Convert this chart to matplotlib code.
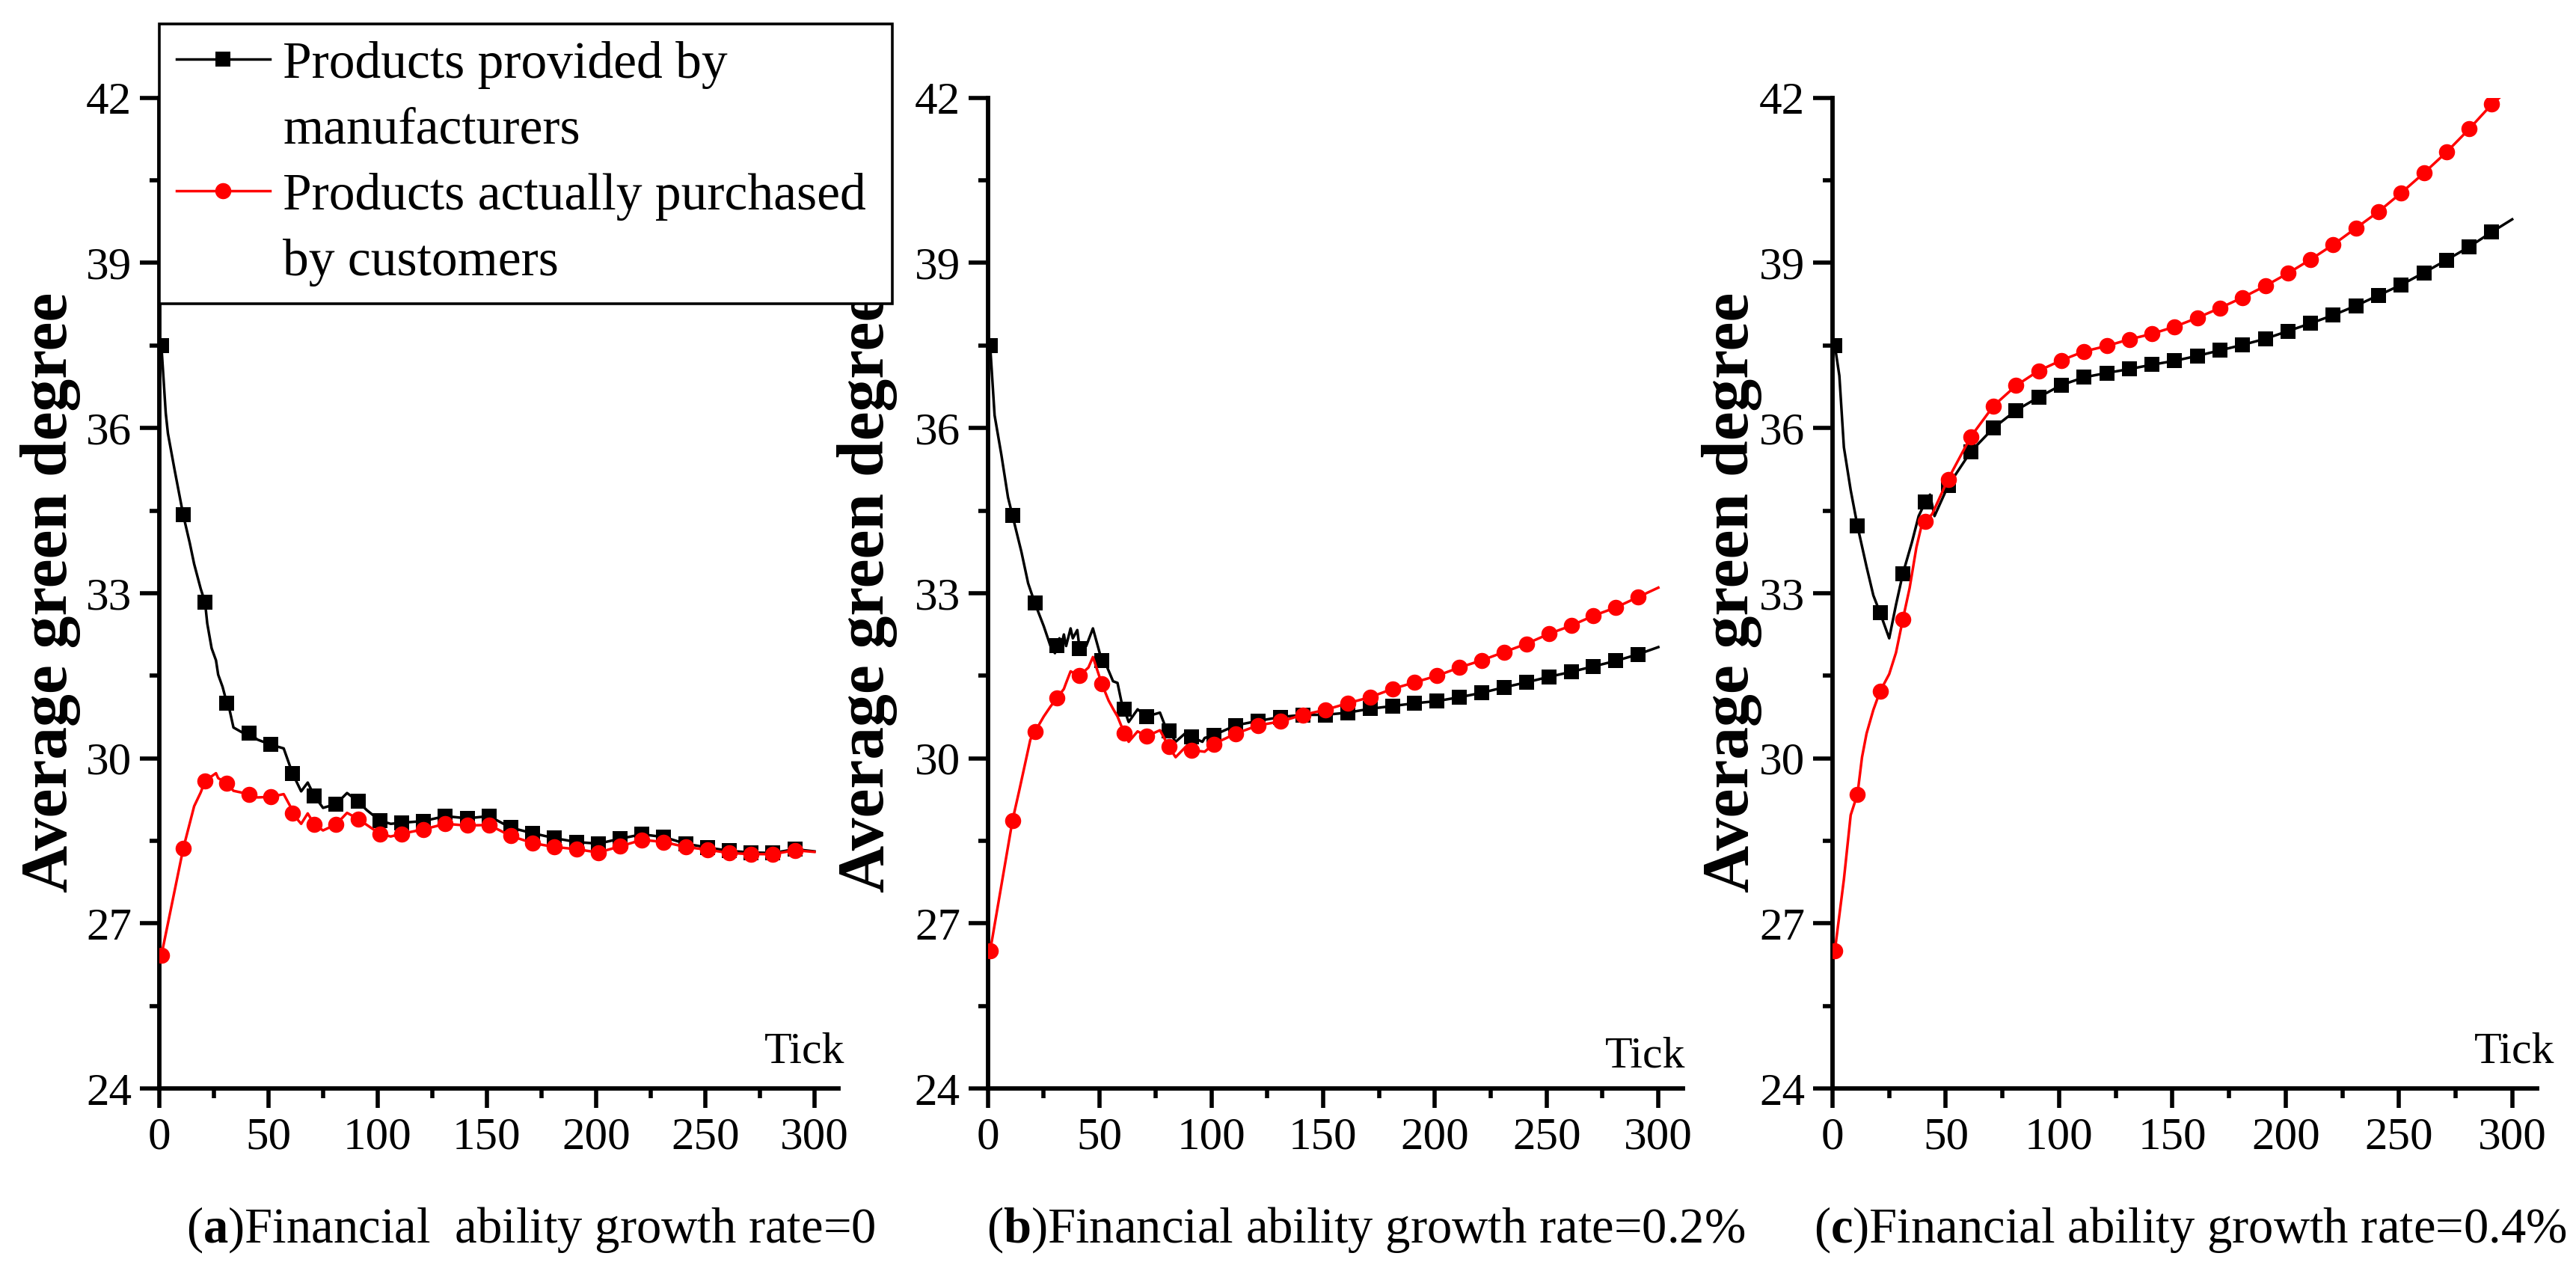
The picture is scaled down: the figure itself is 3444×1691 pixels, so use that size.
import matplotlib
matplotlib.use("Agg")
import matplotlib.pyplot as plt
from matplotlib.lines import Line2D
from matplotlib.ticker import MultipleLocator

plt.rcParams['font.family'] = ['Liberation Serif', 'DejaVu Serif']
plt.rcParams['mathtext.fontset'] = 'custom'
plt.rcParams['mathtext.rm'] = 'Liberation Serif'
plt.rcParams['mathtext.bf'] = 'Liberation Serif:bold'

# ---- data (tick, average green degree) ----
# (a) growth rate = 0
a_man_x = [1, 3, 4, 7, 11, 14, 16, 19, 21, 22, 24, 26, 27, 29, 31, 32, 34, 38, 41, 45, 51, 57, 61, 65, 68,
           71, 75, 81, 86, 91, 95, 101, 106, 111, 121, 131, 141, 151, 161, 171, 181, 191, 201, 211, 221,
           231, 241, 251, 261, 271, 281, 291, 300]
a_man_y = [37.5, 36.27, 35.9, 35.25, 34.42, 33.91, 33.53, 33.08, 32.83, 32.45, 32.0, 31.78, 31.52, 31.3,
           31.0, 30.92, 30.56, 30.47, 30.46, 30.34, 30.25, 30.18, 29.73, 29.40, 29.56, 29.32, 29.10, 29.17,
           29.37, 29.22, 29.06, 28.87, 28.81, 28.83, 28.86, 28.95, 28.91, 28.95, 28.74, 28.64, 28.55, 28.48,
           28.45, 28.54, 28.62, 28.57, 28.45, 28.38, 28.32, 28.29, 28.28, 28.35, 28.31]
a_cus_x = [1, 11, 16, 19, 21, 26, 27, 31, 34, 41, 45, 51, 57, 60, 61, 65, 68, 71, 75, 81, 86, 91, 101, 106,
           111, 121, 131, 141, 151, 161, 171, 181, 191, 201, 211, 221, 231, 241, 251, 261, 271, 281, 291, 300]
a_cus_y = [26.42, 28.36, 29.13, 29.38, 29.59, 29.73, 29.64, 29.55, 29.41, 29.35, 29.29, 29.30, 29.35, 29.13,
           29.0, 28.81, 29.0, 28.80, 28.69, 28.80, 29.01, 28.90, 28.63, 28.58, 28.63, 28.71, 28.81, 28.78,
           28.79, 28.59, 28.46, 28.39, 28.35, 28.29, 28.40, 28.52, 28.48, 28.39, 28.34, 28.28, 28.26, 28.26,
           28.33, 28.30]

# (b) growth rate = 0.2%
b_man_x = [1, 3, 6, 9, 11, 15, 18, 21, 25, 28, 30, 31, 32, 33, 34, 35, 37, 38, 40, 41, 44, 47, 51, 53, 56,
           58, 60, 61, 63, 67, 71, 77, 79, 81, 84, 89, 91, 96, 97, 101, 111, 121, 131, 141, 151, 161, 171,
           181, 191, 201, 211, 221, 231, 241, 251, 261, 271, 281, 291, 300]
b_man_y = [37.5, 36.23, 35.52, 34.74, 34.41, 33.75, 33.18, 32.82, 32.40, 32.04, 31.91, 32.05, 32.18, 32.08,
           32.25, 32.04, 32.36, 32.18, 32.33, 32.0, 32.04, 32.36, 31.77, 31.69, 31.40, 31.37, 30.98, 30.89,
           30.66, 30.89, 30.76, 30.83, 30.62, 30.50, 30.30, 30.48, 30.39, 30.30, 30.37, 30.42, 30.60, 30.68,
           30.75, 30.79, 30.79, 30.83, 30.90, 30.95, 31.0, 31.04, 31.11, 31.19, 31.29, 31.38, 31.48, 31.57,
           31.67, 31.77, 31.89, 32.02]
b_cus_x = [1, 11, 14, 19, 21, 25, 28, 31, 34, 35, 37, 41, 45, 47, 51, 54, 56, 58, 61, 63, 67, 71, 77, 81,
           84, 89, 91, 97, 101, 111, 121, 131, 141, 151, 161, 171, 181, 191, 201, 211, 221, 231, 241, 251,
           261, 271, 281, 291, 300]
b_cus_y = [26.5, 28.87, 29.41, 30.34, 30.48, 30.76, 30.94, 31.10, 31.26, 31.37, 31.58, 31.50, 31.65, 31.84,
           31.35, 31.05, 30.90, 30.76, 30.46, 30.30, 30.49, 30.40, 30.51, 30.21, 30.02, 30.23, 30.15, 30.12,
           30.26, 30.45, 30.60, 30.67, 30.79, 30.88, 31.0, 31.11, 31.26, 31.38, 31.50, 31.65, 31.78, 31.93,
           32.08, 32.26, 32.41, 32.59, 32.74, 32.93, 33.10]

# (c) growth rate = 0.4%
c_man_x = [1, 3, 5, 8, 11, 15, 18, 21, 25, 28, 31, 35, 38, 41, 43, 45, 51, 61, 71, 81, 91, 101, 111, 121,
           131, 141, 151, 161, 171, 181, 191, 201, 211, 221, 231, 241, 251, 261, 271, 281, 291, 300]
c_man_y = [37.5, 36.95, 35.65, 34.87, 34.22, 33.48, 32.96, 32.64, 32.18, 32.79, 33.35, 33.92, 34.40, 34.66,
           34.79, 34.40, 34.95, 35.57, 36.0, 36.32, 36.56, 36.78, 36.92, 37.0, 37.07, 37.15, 37.22, 37.31,
           37.41, 37.51, 37.62, 37.76, 37.90, 38.05, 38.22, 38.41, 38.60, 38.82, 39.05, 39.29, 39.56, 39.79]
c_cus_x = [1, 5, 8, 11, 13, 15, 18, 21, 25, 28, 31, 34, 37, 39, 41, 44, 51, 61, 71, 81, 91, 101, 111, 121,
           131, 141, 151, 161, 171, 181, 191, 201, 211, 221, 231, 241, 251, 261, 271, 281, 291, 300]
c_cus_y = [26.5, 27.8, 28.97, 29.35, 30.02, 30.45, 30.88, 31.22, 31.53, 31.92, 32.52, 33.09, 33.83, 34.18,
           34.30, 34.44, 35.07, 35.84, 36.40, 36.77, 37.04, 37.23, 37.39, 37.49, 37.61, 37.71, 37.84, 38.0,
           38.18, 38.37, 38.58, 38.81, 39.06, 39.33, 39.63, 39.93, 40.27, 40.63, 41.01, 41.43, 41.88, 42.2]

captions = [r"($\mathbf{a}$)Financial  ability growth rate=0",
            r"($\mathbf{b}$)Financial ability growth rate=0.2%",
            r"($\mathbf{c}$)Financial ability growth rate=0.4%"]
label_man = ["Products provided by", "manufacturers"]
label_cus = ["Products actually purchased", "by customers"]

panels = [(a_man_x, a_man_y, a_cus_x, a_cus_y),
          (b_man_x, b_man_y, b_cus_x, b_cus_y),
          (c_man_x, c_man_y, c_cus_x, c_cus_y)]

# layout (figure fractions)
lefts = [0.0618, 0.3835, 0.7114]
widths = [0.2637, 0.2698, 0.2735]
ylab_x = [0.0197, 0.3368, 0.6722]
cap_x = [0.0723, 0.383, 0.704]
tick_pos = [(1.009, 0.0266), (1.004, 0.0214), (1.025, 0.0266)]

fig = plt.figure(figsize=(34.44, 16.91), dpi=100)

def marks(xs):
    return [i for i, x in enumerate(xs) if x % 10 == 1]

sq = dict(color='black', lw=2.5, marker='s', ms=14, mew=0)
ci = dict(color='red', lw=2.5, marker='o', ms=15.5, mew=0)

for k, (mx, my, cx, cy) in enumerate(panels):
    ax = fig.add_axes([lefts[k], 0.1394, widths[k], 0.7834])
    ax.plot(mx, my, markevery=marks(mx), zorder=3, **sq)
    ax.plot(cx, cy, markevery=marks(cx), zorder=4, **ci)
    ax.set_xlim(0, 311)
    ax.set_ylim(24, 42)
    ax.spines['top'].set_visible(False)
    ax.spines['right'].set_visible(False)
    ax.spines['left'].set_linewidth(4.2)
    ax.spines['bottom'].set_linewidth(4.2)
    ax.xaxis.set_major_locator(MultipleLocator(50))
    ax.xaxis.set_minor_locator(MultipleLocator(25))
    ax.yaxis.set_major_locator(MultipleLocator(3))
    ax.yaxis.set_minor_locator(MultipleLocator(1.5))
    ax.tick_params(which='major', direction='out', length=18.5, width=4.0, labelsize=44)
    ax.tick_params(which='minor', direction='out', length=9.5, width=4.0)
    ax.tick_params(axis='y', which='major', pad=8)
    ax.tick_params(axis='x', which='major', pad=9)
    ax.text(tick_pos[k][0], tick_pos[k][1], "Tick", transform=ax.transAxes, fontsize=43,
            ha='right', va='baseline', clip_on=False)
    fig.text(ylab_x[k], 0.5316, "Average green degree", rotation=90, fontsize=63,
             fontweight='bold', ha='center', va='center')
    fig.text(cap_x[k], 0.0278, captions[k], fontsize=48, ha='left', va='center')

h_man = Line2D([], [], **sq)
h_cus = Line2D([], [], **ci)
h_none = Line2D([], [], color='none')
leg = fig.legend([h_man, h_none, h_cus, h_none],
                 [label_man[0], label_man[1], label_cus[0], label_cus[1]],
                 loc='upper left', bbox_to_anchor=(0.0618, 0.7617, 0.2845, 0.2196),
                 mode='expand', borderaxespad=0, fontsize=50, frameon=True, fancybox=False,
                 edgecolor='black', framealpha=1, handlelength=1.8, handletextpad=0.25,
                 labelspacing=0.35, borderpad=0.33)
leg.get_frame().set_linewidth(2.6)

fig.savefig("out.png", dpi=100)
